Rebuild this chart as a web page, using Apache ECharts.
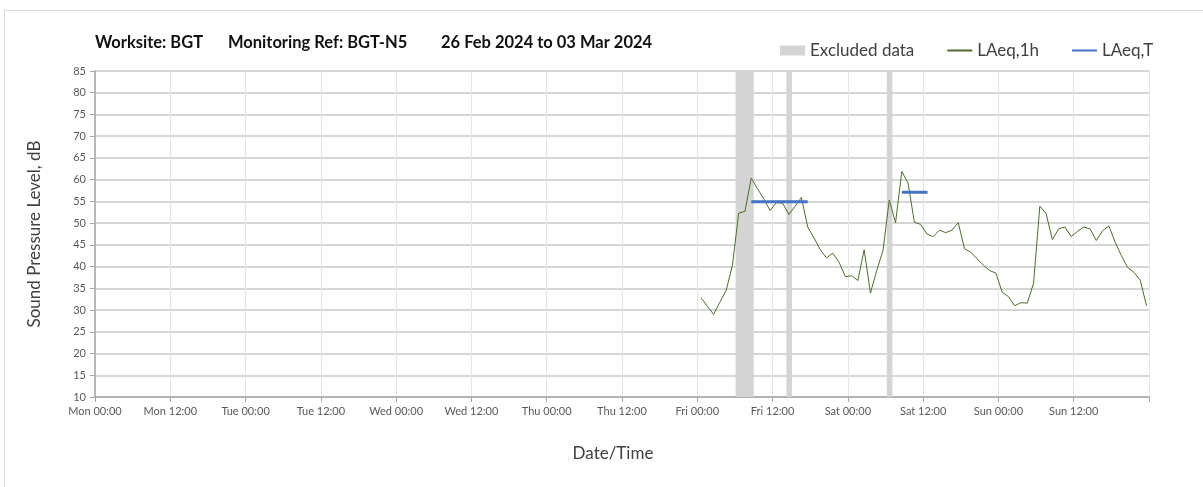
<!DOCTYPE html>
<html>
<head>
<meta charset="utf-8">
<script src="https://cdn.jsdelivr.net/npm/echarts@6/dist/echarts.min.js"></script>
<style>
  html, body { margin: 0; padding: 0; background: #fff; }
  #myChart { width: 1203px; height: 487px; }
</style>
</head>
<body>
<div id="myChart"></div>
<script>
// hours counted from Mon 00:00
const xTickLabels = ['Mon 00:00', 'Mon 12:00', 'Tue 00:00', 'Tue 12:00', 'Wed 00:00', 'Wed 12:00', 'Thu 00:00',
  'Thu 12:00', 'Fri 00:00', 'Fri 12:00', 'Sat 00:00', 'Sat 12:00', 'Sun 00:00', 'Sun 12:00', '']
const titleParts = ['Worksite: BGT', 'Monitoring Ref: BGT-N5', '26 Feb 2024 to 03 Mar 2024']
const firstHour = 96.6
const laeq1h = [
  32.8, 30.9, 29.0, 31.8, 34.5, 40.3, 52.3, 52.7, 60.4, 57.9, 55.6, 52.9,
  54.7, 54.6, 52.0, 53.9, 55.9, 49.1, 46.6, 43.9, 42.0, 43.1, 41.0, 37.7,
  37.9, 36.8, 43.9, 33.9, 39.1, 43.7, 55.3, 50.1, 61.9, 59.2, 50.2, 49.7,
  47.5, 46.9, 48.4, 47.8, 48.4, 50.1, 44.1, 43.3, 41.8, 40.3, 39.1, 38.5,
  34.1, 33.1, 31.0, 31.7, 31.6, 36.2, 53.9, 52.2, 46.2, 48.7, 49.1, 46.9,
  48.1, 49.1, 48.7, 46.0, 48.2, 49.4, 45.6, 42.5, 39.8, 38.7, 36.9, 31.0
]
const laeqT = [
  { from: 104.6, to: 113.6, value: 54.9 },
  { from: 128.6, to: 132.7, value: 57.1 }
]
const excluded = [[102.1, 105.0], [110.2, 111.1], [126.2, 127.1]]

const font = 'Lato'
const lineData = laeq1h.map((v, i) => [firstHour + i, v])
const tData = []
laeqT.forEach(s => {
  tData.push([s.from, s.value], [s.to, s.value], [s.to, null])
})

const titleX = [95, 228, 441]
const titleGraphics = titleParts.map((t, i) => ({
  type: 'text',
  x: titleX[i],
  y: 43,
  style: {
    text: t,
    font: 'bold 16.5px ' + font,
    fill: '#111',
    textVerticalAlign: 'middle'
  }
}))

var myChart = echarts.init(document.getElementById('myChart'))
myChart.setOption({
  animation: false,
  textStyle: { fontFamily: font },
  graphic: [{
    type: 'rect',
    shape: { x: 4.5, y: 10.5, width: 1250, height: 500 },
    style: { fill: null, stroke: '#d9d9d9', lineWidth: 1 }
  }].concat(titleGraphics),
  legend: {
    left: 775,
    top: 37,
    itemWidth: 25,
    itemHeight: 10,
    itemGap: 32,
    textStyle: { fontFamily: font, fontSize: 17, color: '#404040' },
    data: [
      { name: 'Excluded data', icon: 'rect' },
      { name: 'LAeq,1h', itemStyle: { opacity: 0 } },
      { name: 'LAeq,T', itemStyle: { opacity: 0 } }
    ]
  },
  grid: {
    left: 95,
    right: 54,
    top: 71,
    bottom: 90
  },
  xAxis: {
    type: 'value',
    min: 0,
    max: 168,
    interval: 12,
    name: 'Date/Time',
    nameLocation: 'middle',
    nameGap: 48,
    nameTextStyle: { fontFamily: font, fontSize: 17, color: '#404040', padding: [0, 18, 0, 0] },
    axisLine: { lineStyle: { color: '#a6a6a6', width: 1.5 } },
    axisTick: { show: true, length: 5, lineStyle: { color: '#a6a6a6' } },
    axisLabel: {
      fontFamily: font,
      fontSize: 11,
      color: '#595959',
      margin: 9,
      formatter: v => xTickLabels[Math.round(v / 12)]
    },
    splitLine: { show: true, lineStyle: { color: '#e4e4e4', width: 1 } }
  },
  yAxis: {
    type: 'value',
    min: 10,
    max: 85,
    interval: 5,
    name: 'Sound Pressure Level, dB',
    nameLocation: 'middle',
    nameGap: 52,
    nameTextStyle: { fontFamily: font, fontSize: 17, color: '#404040' },
    axisLine: { show: true, lineStyle: { color: '#a6a6a6', width: 1.5 } },
    axisTick: { show: true, length: 5, lineStyle: { color: '#a6a6a6' } },
    axisLabel: { fontFamily: font, fontSize: 11, color: '#595959', margin: 9 },
    splitLine: { lineStyle: { color: '#c8c8c8', width: 1.5 } }
  },
  series: [
    {
      name: 'Excluded data',
      type: 'line',
      data: [],
      itemStyle: { color: '#d4d4d4' },
      markArea: {
        silent: true,
        itemStyle: { color: '#d4d4d4' },
        data: excluded.map(e => [{ xAxis: e[0] }, { xAxis: e[1] }])
      }
    },
    {
      name: 'LAeq,1h',
      type: 'line',
      symbol: 'none',
      data: lineData,
      itemStyle: { color: '#4f6b2f' },
      lineStyle: { color: '#4f6b2f', width: 1 }
    },
    {
      name: 'LAeq,T',
      type: 'line',
      symbol: 'none',
      connectNulls: false,
      data: tData,
      itemStyle: { color: '#4472c4' },
      lineStyle: { color: '#4472c4', width: 3 }
    }
  ]
})
</script>
</body>
</html>
